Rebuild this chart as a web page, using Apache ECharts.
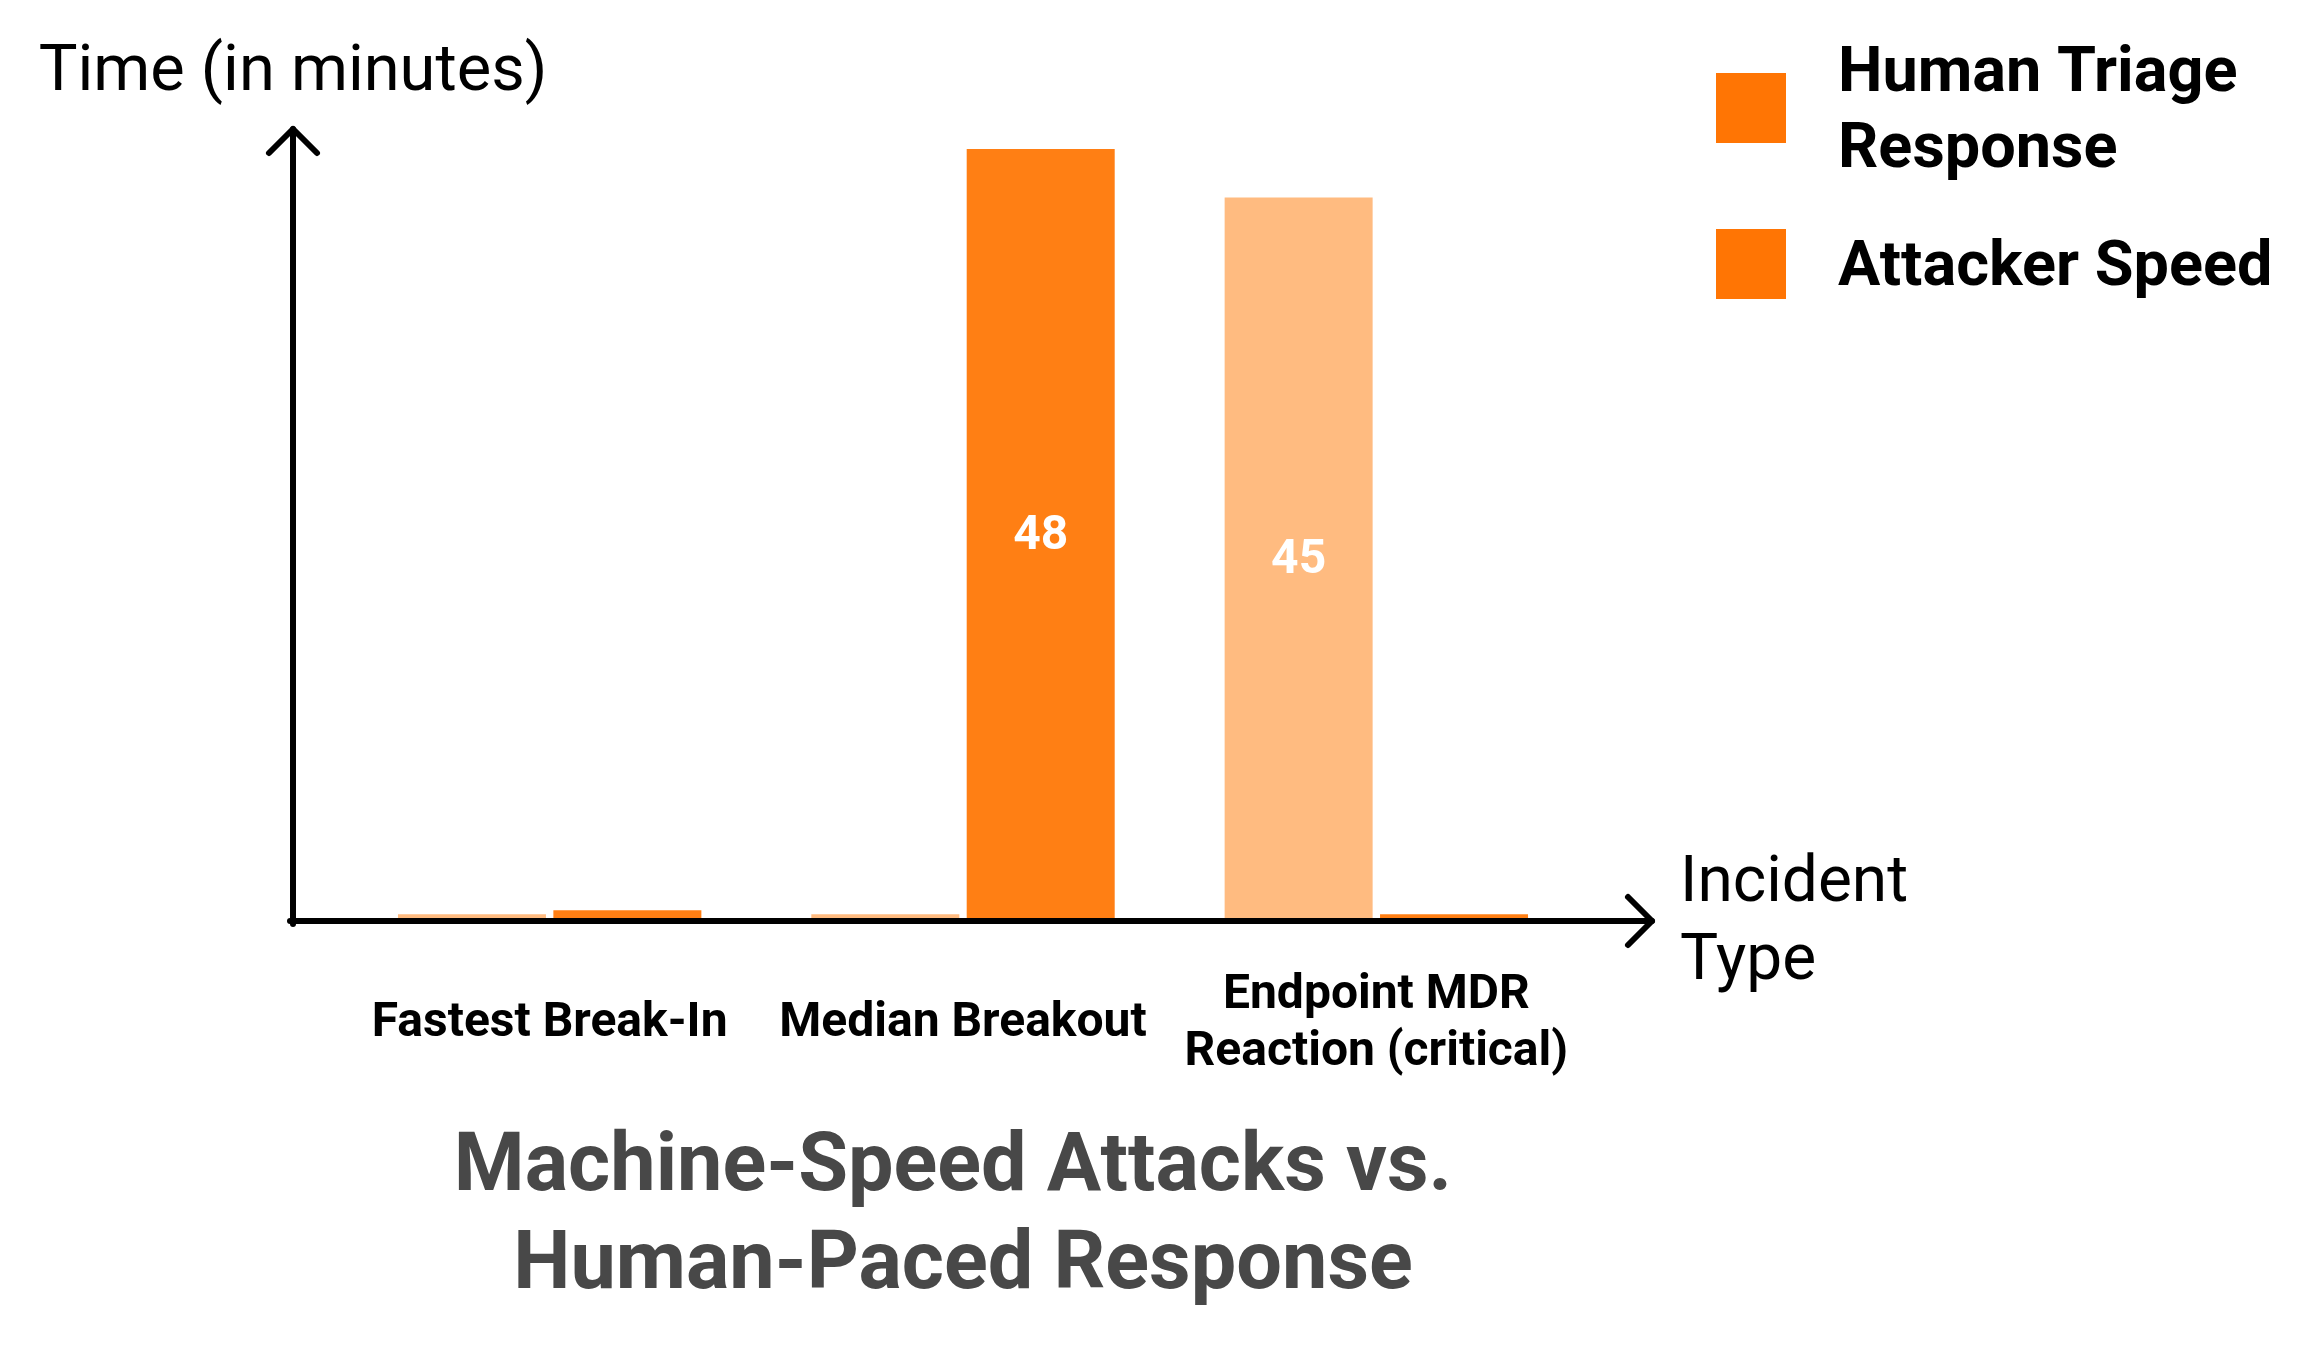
<!DOCTYPE html>
<html>
<head>
    <meta charset="utf-8">
    <title>Machine-Speed Attacks vs. Human-Paced Response</title>
    <script src="https://cdn.jsdelivr.net/npm/echarts@6/dist/echarts.min.js"></script>
    <style>
        html, body { margin: 0; padding: 0; background: #fff; }
        #main { width: 2317px; height: 1346px; }
    </style>
</head>
<body>
<div id="main"></div>
<script type="text/javascript">
    // data (minutes)
    var categories = ['Fastest Break-In', 'Median Breakout', 'Endpoint MDR\nReaction (critical)'];
    var seriesNames = ['Human Triage Response', 'Attacker Speed'];
    var legendLabels = ['Human Triage\nResponse', 'Attacker Speed'];
    var humanTriage = [0.6, 0.6, 45];
    var attackerSpeed = [0.85, 48, 0.6];

    var chartDom = document.getElementById('main');
    var myChart = echarts.init(chartDom);

    // grid box
    var gridLeft = 343, gridRight = 734, gridTop = 149, gridBottom = 422;
    var axisX = 293;           // where the vertical axis line sits
    var yMax = 48;

    // square swatch sitting in the top of a slightly taller icon box,
    // so the legend text lands a little below the swatch centre
    var swatchIcon = 'path://M0,0L70,0L70,70L0,70Z M0,80L0.1,80L0.1,79.9Z';

    function barLabel(p) {
        return p.value >= 1 ? p.value : '';
    }

    var option = {
        animation: false,
        backgroundColor: '#ffffff',
        textStyle: { fontFamily: 'Roboto' },
        title: {
            text: 'Machine-Speed Attacks vs. \nHuman-Paced Response',
            left: 963,
            top: 1121,
            padding: 0,
            textAlign: 'center',
            textStyle: {
                fontFamily: 'Roboto',
                fontWeight: 'bold',
                fontSize: 81,
                lineHeight: 98,
                color: '#484848'
            }
        },
        legend: {
            orient: 'vertical',
            left: 1711,
            top: 32,
            itemWidth: 70,
            itemHeight: 80,
            itemGap: 40,
            icon: swatchIcon,
            data: [
                { name: seriesNames[0], itemStyle: { color: '#ff7504', borderWidth: 0 } },
                { name: seriesNames[1], itemStyle: { color: '#ff7504', borderWidth: 0 } }
            ],
            formatter: function (name) {
                return legendLabels[seriesNames.indexOf(name)];
            },
            textStyle: {
                fontFamily: 'Roboto',
                fontWeight: 'bold',
                fontSize: 63,
                lineHeight: 76,
                color: '#000',
                padding: [0, 0, 0, 47]
            }
        },
        grid: {
            left: gridLeft,
            right: gridRight,
            top: gridTop,
            bottom: gridBottom,
            containLabel: false
        },
        xAxis: {
            type: 'category',
            data: categories,
            axisLine: { show: false },
            axisTick: { show: false },
            axisLabel: {
                interval: 0,
                margin: 100,
                verticalAlign: 'middle',
                fontFamily: 'Roboto',
                fontWeight: 'bold',
                fontSize: 48,
                lineHeight: 57,
                color: '#000'
            },
            name: 'Incident\nType',
            nameLocation: 'end',
            nameGap: 97,
            nameTextStyle: {
                fontFamily: 'Roboto',
                fontSize: 64,
                lineHeight: 78,
                color: '#000',
                align: 'left',
                verticalAlign: 'middle',
                padding: [12, 0, 0, 0]
            }
        },
        yAxis: {
            type: 'value',
            min: 0,
            max: yMax,
            offset: gridLeft - axisX,
            axisLine: { show: false },
            axisTick: { show: false },
            axisLabel: { show: false },
            splitLine: { show: false },
            name: 'Time (in minutes)',
            nameLocation: 'end',
            nameGap: 75,
            nameTextStyle: {
                fontFamily: 'Roboto',
                fontSize: 65,
                color: '#000',
                align: 'center',
                verticalAlign: 'middle'
            }
        },
        series: [
            {
                name: seriesNames[0],
                type: 'bar',
                data: humanTriage,
                barWidth: 148,
                barGap: '5%',
                itemStyle: { color: '#ffbb80' },
                label: {
                    show: true,
                    position: 'inside',
                    formatter: barLabel,
                    fontFamily: 'Roboto',
                    fontWeight: 'bold',
                    fontSize: 48,
                    color: '#fff'
                }
            },
            {
                name: seriesNames[1],
                type: 'bar',
                data: attackerSpeed,
                barWidth: 148,
                barGap: '5%',
                itemStyle: { color: '#ff7f14' },
                label: {
                    show: true,
                    position: 'inside',
                    formatter: barLabel,
                    fontFamily: 'Roboto',
                    fontWeight: 'bold',
                    fontSize: 48,
                    color: '#fff'
                }
            }
        ]
    };
    myChart.setOption(option);

    // axes with open arrow heads
    var basePx = myChart.convertToPixel({ yAxisIndex: 0 }, 0);
    var maxPx = myChart.convertToPixel({ yAxisIndex: 0 }, yMax);
    var lineY = basePx - 3;
    var tipY = maxPx - 20;
    var tipX = 2317 - gridRight + 69;
    var head = 24;
    var axisStyle = { stroke: '#000', lineWidth: 6, lineCap: 'round', lineJoin: 'round', fill: null };

    myChart.setOption({
        graphic: [
            {
                type: 'polyline', z: 100, silent: true,
                shape: { points: [[axisX, basePx], [axisX, tipY]] },
                style: axisStyle
            },
            {
                type: 'polyline', z: 100, silent: true,
                shape: { points: [[axisX - head, tipY + head], [axisX, tipY], [axisX + head, tipY + head]] },
                style: axisStyle
            },
            {
                type: 'polyline', z: 100, silent: true,
                shape: { points: [[axisX - 3, lineY], [tipX, lineY]] },
                style: axisStyle
            },
            {
                type: 'polyline', z: 100, silent: true,
                shape: { points: [[tipX - head, lineY - head], [tipX, lineY], [tipX - head, lineY + head]] },
                style: axisStyle
            }
        ]
    });
</script>
</body>
</html>
